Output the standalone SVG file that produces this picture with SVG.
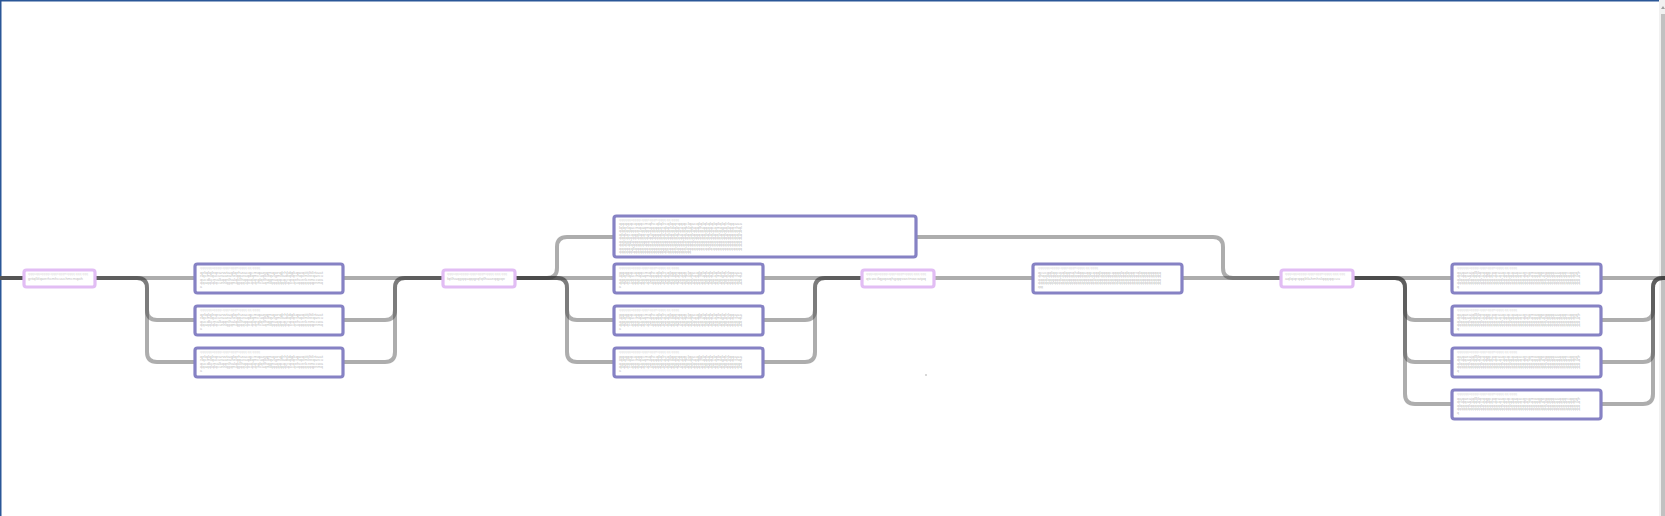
<svg xmlns="http://www.w3.org/2000/svg" width="1665" height="516" viewBox="0 0 1665 516">
<style>
.c{fill:none;stroke:#333;stroke-opacity:0.4;stroke-width:4;stroke-linejoin:round}
.cd{fill:none;stroke:#555;stroke-width:4}
.np{fill:#fff;stroke:#8682c4;stroke-width:3.2}
.nk{fill:#fff;stroke:#e2bdf4;stroke-width:3.2}
.t{font-family:'Liberation Sans',sans-serif;font-size:3.3px;fill:#c2c2c2}
.h{fill:#dedede}
</style>
<rect width="1665" height="516" fill="#fff"/>
<rect x="0" y="0" width="1660" height="1.5" fill="#2b5797"/>
<rect x="0" y="0" width="1.5" height="516" fill="#2b5797"/>
<rect x="1659" y="0" width="6" height="516" fill="#f1f1f1"/>
<rect x="1661" y="14" width="4" height="502" fill="#c1c1c1"/>
<polygon points="1663,6 1661,9 1665,9" fill="#a0a0a0"/>
<rect x="925" y="374" width="2" height="2" fill="#d8d8d8"/>
<g id="connectors">
<path class="cd" d="M0,278 H24"/>
<path class="c" d="M95,278 H195"/>
<path class="c" d="M95,278 H137 Q147,278 147,288 V310 Q147,320 157,320 H195"/>
<path class="c" d="M95,278 H137 Q147,278 147,288 V352 Q147,362 157,362 H195"/>
<path class="c" d="M343,278 H443"/>
<path class="c" d="M343,320 H385 Q395,320 395,310 V288 Q395,278 405,278 H443"/>
<path class="c" d="M343,362 H385 Q395,362 395,352 V288 Q395,278 405,278 H443"/>
<path class="c" d="M515,278 H547 Q557,278 557,268 V247 Q557,237 567,237 H614"/>
<path class="c" d="M515,278 H614"/>
<path class="c" d="M515,278 H557 Q567,278 567,288 V310 Q567,320 577,320 H614"/>
<path class="c" d="M515,278 H557 Q567,278 567,288 V352 Q567,362 577,362 H614"/>
<path class="c" d="M763,278 H862"/>
<path class="c" d="M763,320 H805 Q815,320 815,310 V288 Q815,278 825,278 H862"/>
<path class="c" d="M763,362 H805 Q815,362 815,352 V288 Q815,278 825,278 H862"/>
<path class="c" d="M916,237 H1213 Q1223,237 1223,247 V268 Q1223,278 1233,278 H1281"/>
<path class="c" d="M934,278 H1033"/>
<path class="c" d="M1182,278 H1281"/>
<path class="c" d="M1353,278 H1452"/>
<path class="c" d="M1353,278 H1395 Q1405,278 1405,288 V310 Q1405,320 1415,320 H1452"/>
<path class="c" d="M1353,278 H1395 Q1405,278 1405,288 V352 Q1405,362 1415,362 H1452"/>
<path class="c" d="M1353,278 H1395 Q1405,278 1405,288 V394 Q1405,404 1415,404 H1452"/>
<path class="c" d="M1601,278 H1665"/>
<path class="c" d="M1601,320 H1643 Q1653,320 1653,310 V288 Q1653,278 1663,278 H1665"/>
<path class="c" d="M1601,362 H1643 Q1653,362 1653,352 V288 Q1653,278 1663,278 H1665"/>
<path class="c" d="M1601,404 H1643 Q1653,404 1653,394 V288 Q1653,278 1663,278 H1665"/>
</g>
<g id="p1"><rect class="nk" x="24" y="270" width="71" height="17" rx="2.5"/>
<text class="t h" x="28" y="275" textLength="60" lengthAdjust="spacingAndGlyphs">qqqaqqaqqqqcqqqeqqqmqqqq qqq qqq</text>
<text class="t" x="28" y="280" textLength="55" lengthAdjust="spacingAndGlyphs">gritqlkfqwerhcmhcuuchmcmqwh</text></g>
<g id="a1"><rect class="np" x="195" y="264" width="148" height="29" rx="2.5"/>
<text class="t h" x="200" y="269" textLength="60" lengthAdjust="spacingAndGlyphs">qqqqqqaqqqqcqqqeqqqmqqqq qq qqqq</text>
<text class="t" x="200" y="273.5" textLength="123" lengthAdjust="spacingAndGlyphs">qrlqlqlrqrarwtaqlqrhzacqcmqaeqmqorqlrhldqkqwqiitiltilrtaat</text>
<text class="t" x="200" y="277" textLength="123" lengthAdjust="spacingAndGlyphs">rlqcmlqucuraaeaheqquraqdqmcuqlklfqvlgmlfadtqfqrrhqomlreqarcu</text>
<text class="t" x="200" y="280.5" textLength="123" lengthAdjust="spacingAndGlyphs">qucdkcmalkqqnlhalqkllhqqoqlqrqlqtfhqqnuqqcqcrqrqehcerlcnmccwa</text>
<text class="t" x="200" y="284" textLength="123" lengthAdjust="spacingAndGlyphs">qqaqqlqlqcunnqgqmqgqqupcqrqrhcaqmlqqqqqqqlqacquqqqqqqqpnmq</text>
<text class="t" x="200" y="287.5" textLength="2" lengthAdjust="spacingAndGlyphs">a</text></g>
<g id="a2"><rect class="np" x="195" y="306" width="148" height="29" rx="2.5"/>
<text class="t h" x="200" y="311" textLength="60" lengthAdjust="spacingAndGlyphs">qqqqqqaqqqqcqqqeqqqmqqqq qq qqqq</text>
<text class="t" x="200" y="315.5" textLength="123" lengthAdjust="spacingAndGlyphs">qrlqlqlrqrarwtaqlqrhzacqcmqaeqmqorqlrhldqkqwqiitiltilrtaat</text>
<text class="t" x="200" y="319" textLength="123" lengthAdjust="spacingAndGlyphs">rlqcmlqucuraaeaheqquraqdqmcuqlklfqvlgmlfadtqfqrrhqomlreqarcu</text>
<text class="t" x="200" y="322.5" textLength="123" lengthAdjust="spacingAndGlyphs">qucdkcmalkqqnlhalqkllhqqoqlqrqlqtfhqqnuqqcqcrqrqehcerlcnmccwa</text>
<text class="t" x="200" y="326" textLength="123" lengthAdjust="spacingAndGlyphs">qqaqqlqlqcunnqgqmqgqqupcqrqrhcaqmlqqqqqqqlqacquqqqqqqqpnmq</text>
<text class="t" x="200" y="329.5" textLength="2" lengthAdjust="spacingAndGlyphs">a</text></g>
<g id="a3"><rect class="np" x="195" y="348" width="148" height="29" rx="2.5"/>
<text class="t h" x="200" y="353" textLength="60" lengthAdjust="spacingAndGlyphs">qqqqqqaqqqqcqqqeqqqmqqqq qq qqqq</text>
<text class="t" x="200" y="357.5" textLength="123" lengthAdjust="spacingAndGlyphs">qrlqlqlrqrarwtaqlqrhzacqcmqaeqmqorqlrhldqkqwqiitiltilrtaat</text>
<text class="t" x="200" y="361" textLength="123" lengthAdjust="spacingAndGlyphs">rlqcmlqucuraaeaheqquraqdqmcuqlklfqvlgmlfadtqfqrrhqomlreqarcu</text>
<text class="t" x="200" y="364.5" textLength="123" lengthAdjust="spacingAndGlyphs">qucdkcmalkqqnlhalqkllhqqoqlqrqlqtfhqqnuqqcqcrqrqehcerlcnmccwa</text>
<text class="t" x="200" y="368" textLength="123" lengthAdjust="spacingAndGlyphs">qqaqqlqlqcunnqgqmqgqqupcqrqrhcaqmlqqqqqqqlqacquqqqqqqqpnmq</text>
<text class="t" x="200" y="371.5" textLength="2" lengthAdjust="spacingAndGlyphs">a</text></g>
<g id="p2"><rect class="nk" x="443" y="270" width="72" height="17" rx="2.5"/>
<text class="t h" x="447" y="275" textLength="60" lengthAdjust="spacingAndGlyphs">qqqaqqaqqqqcqqqeqqqmqqqq qqq qqq</text>
<text class="t" x="447" y="280" textLength="58" lengthAdjust="spacingAndGlyphs">fqtlhaqgqqaqqqpqfqtlhaaeqqpqe</text></g>
<g id="b0"><rect class="np" x="614" y="216" width="302" height="41" rx="2.5"/>
<text class="t h" x="619" y="221" textLength="60" lengthAdjust="spacingAndGlyphs">qqqqqqaqqqqcqqqeqqqmqqqq qq qqqq</text>
<text class="t" x="619" y="225" textLength="123" lengthAdjust="spacingAndGlyphs">qqqqqcqqqcmqhcqlqlrcqlqqrqqqclqacqlqlqlqlqlqilqlqlrlqqaaa</text>
<text class="t" x="619" y="228.5" textLength="123" lengthAdjust="spacingAndGlyphs">lqlqrlqacmqaqmqqqqqrqlqrldqlqrqqhlqhqqfhqqqqcqmqpqlqqrrhql</text>
<text class="t" x="619" y="232" textLength="123" lengthAdjust="spacingAndGlyphs">qqqqqqqqqaqqqqqqqqqqqqqqqqqqqqqqqqlqqqqqqqqqqqqqqqqqqqqqqq</text>
<text class="t" x="619" y="235.5" textLength="123" lengthAdjust="spacingAndGlyphs">qlqlqcqqqlqqrqrlqqqqlqlqlqqlqhqqlqqlqqqqqlqlqlqqlqqlqqqqqlq</text>
<text class="t" x="619" y="239" textLength="123" lengthAdjust="spacingAndGlyphs">qqqqqqqqlqqqqqlqqlqqqqqqqqqqqqqqqqqqqqqqqqqqqqqqqqqqqqqqqqq</text>
<text class="t" x="619" y="242.5" textLength="123" lengthAdjust="spacingAndGlyphs">qqlqqqlqqqqqqqqrqqqqqqqqqqqqqqqlqqqqlqqqqqqqqqqqqqqqqqqqqqq</text>
<text class="t" x="619" y="246" textLength="123" lengthAdjust="spacingAndGlyphs">qqlqlqlqqqqqqlqqqqqqqqqqqqqqqqqqqqqqqqqqqqqqqqqqqqqqqqqqqq</text>
<text class="t" x="619" y="249.5" textLength="123" lengthAdjust="spacingAndGlyphs">qqqqqqllqqqqqqqqqqqqqqqqqqlqqqqlqqqqqqqqqqlqqqqqqqqqqqqqq</text>
<text class="t" x="619" y="253" textLength="72" lengthAdjust="spacingAndGlyphs">qqqqqqlqqqqqqqqqqqqqqlqlqqqqqqqqqqq</text></g>
<g id="b1"><rect class="np" x="614" y="264" width="149" height="29" rx="2.5"/>
<text class="t h" x="619" y="269" textLength="60" lengthAdjust="spacingAndGlyphs">qqqqqqaqqqqcqqqeqqqmqqqq qq qqqq</text>
<text class="t" x="619" y="273.5" textLength="123" lengthAdjust="spacingAndGlyphs">qqqqqcqqqcmqhcqlqlrcqlqqrqqqclqacqlqlqlqlqlqilqlqlrlqqaaa</text>
<text class="t" x="619" y="277" textLength="123" lengthAdjust="spacingAndGlyphs">lqlqrlqacmqaqmqqqqqrqlqrldqlqrqqhlqhqqfhqqqqcqmqpqlqqrrhql</text>
<text class="t" x="619" y="280.5" textLength="123" lengthAdjust="spacingAndGlyphs">qqqqqqqqqaqqqqqqqqqqqqqqqqqqqqqqqqlqqqqqqqqqqqqqqqqqqqqqqq</text>
<text class="t" x="619" y="284" textLength="123" lengthAdjust="spacingAndGlyphs">qlqlqcqqqlqqrqrlqqqqlqlqlqqlqhqqlqqlqqqqqlqlqlqqlqqlqqqqqlq</text>
<text class="t" x="619" y="287.5" textLength="2" lengthAdjust="spacingAndGlyphs">a</text></g>
<g id="b2"><rect class="np" x="614" y="306" width="149" height="29" rx="2.5"/>
<text class="t h" x="619" y="311" textLength="60" lengthAdjust="spacingAndGlyphs">qqqqqqaqqqqcqqqeqqqmqqqq qq qqqq</text>
<text class="t" x="619" y="315.5" textLength="123" lengthAdjust="spacingAndGlyphs">qqqqqcqqqcmqhcqlqlrcqlqqrqqqclqacqlqlqlqlqlqilqlqlrlqqaaa</text>
<text class="t" x="619" y="319" textLength="123" lengthAdjust="spacingAndGlyphs">lqlqrlqacmqaqmqqqqqrqlqrldqlqrqqhlqhqqfhqqqqcqmqpqlqqrrhql</text>
<text class="t" x="619" y="322.5" textLength="123" lengthAdjust="spacingAndGlyphs">qqqqqqqqqaqqqqqqqqqqqqqqqqqqqqqqqqlqqqqqqqqqqqqqqqqqqqqqqq</text>
<text class="t" x="619" y="326" textLength="123" lengthAdjust="spacingAndGlyphs">qlqlqcqqqlqqrqrlqqqqlqlqlqqlqhqqlqqlqqqqqlqlqlqqlqqlqqqqqlq</text>
<text class="t" x="619" y="329.5" textLength="2" lengthAdjust="spacingAndGlyphs">a</text></g>
<g id="b3"><rect class="np" x="614" y="348" width="149" height="29" rx="2.5"/>
<text class="t h" x="619" y="353" textLength="60" lengthAdjust="spacingAndGlyphs">qqqqqqaqqqqcqqqeqqqmqqqq qq qqqq</text>
<text class="t" x="619" y="357.5" textLength="123" lengthAdjust="spacingAndGlyphs">qqqqqcqqqcmqhcqlqlrcqlqqrqqqclqacqlqlqlqlqlqilqlqlrlqqaaa</text>
<text class="t" x="619" y="361" textLength="123" lengthAdjust="spacingAndGlyphs">lqlqrlqacmqaqmqqqqqrqlqrldqlqrqqhlqhqqfhqqqqcqmqpqlqqrrhql</text>
<text class="t" x="619" y="364.5" textLength="123" lengthAdjust="spacingAndGlyphs">qqqqqqqqqaqqqqqqqqqqqqqqqqqqqqqqqqlqqqqqqqqqqqqqqqqqqqqqqq</text>
<text class="t" x="619" y="368" textLength="123" lengthAdjust="spacingAndGlyphs">qlqlqcqqqlqqrqrlqqqqlqlqlqqlqhqqlqqlqqqqqlqlqlqqlqqlqqqqqlq</text>
<text class="t" x="619" y="371.5" textLength="2" lengthAdjust="spacingAndGlyphs">a</text></g>
<g id="p3"><rect class="nk" x="862" y="270" width="72" height="17" rx="2.5"/>
<text class="t h" x="866" y="275" textLength="60" lengthAdjust="spacingAndGlyphs">qqqaqqaqqqqcqqqeqqqmqqqq qqq qqq</text>
<text class="t" x="866" y="280" textLength="60" lengthAdjust="spacingAndGlyphs">qtcwcilqpqwqhgqqswctnwcwipq</text></g>
<g id="c1"><rect class="np" x="1033" y="264" width="149" height="29" rx="2.5"/>
<text class="t h" x="1038" y="269" textLength="60" lengthAdjust="spacingAndGlyphs">qqqqqqaqqqqcqqqeqqqmqqqq qq qqqq</text>
<text class="t" x="1038" y="273.5" textLength="123" lengthAdjust="spacingAndGlyphs">qcucqqlqqcwqlqqnqhdqqaqqcqqqlqqqqcqqqqlqqlqqqrrqlqqqqqqqqq</text>
<text class="t" x="1038" y="277" textLength="123" lengthAdjust="spacingAndGlyphs">qhqqlqqqqqqlqqqqqqqqqqqqqlqqqqlqqqqqqqqqqqqqqqqqqqqqqqqqqqq</text>
<text class="t" x="1038" y="280.5" textLength="123" lengthAdjust="spacingAndGlyphs">qqqqlqqqqqqlqqqqqqqqqqqqqqqlqqqqqqqqqqqqqqqqqqqqqqqqqqqqqqq</text>
<text class="t" x="1038" y="284" textLength="123" lengthAdjust="spacingAndGlyphs">qqqqqqqlqqqqqqqqqqqqqqqqqqqqqqqqqqqqqqlqqqqqqqqqqqqqqqqqqqq</text>
<text class="t" x="1038" y="287.5" textLength="5" lengthAdjust="spacingAndGlyphs">qqq</text></g>
<g id="p4"><rect class="nk" x="1281" y="270" width="72" height="17" rx="2.5"/>
<text class="t h" x="1285" y="275" textLength="60" lengthAdjust="spacingAndGlyphs">qqqaqqaqqqqcqqqeqqqmqqqq qqq qqq</text>
<text class="t" x="1285" y="280" textLength="55" lengthAdjust="spacingAndGlyphs">aqlqiqrqqqlitlahmhslqqqqqcuu</text></g>
<g id="d1"><rect class="np" x="1452" y="264" width="149" height="29" rx="2.5"/>
<text class="t h" x="1457" y="269" textLength="60" lengthAdjust="spacingAndGlyphs">qqqqqqaqqqqcqqqeqqqmqqqq qq qqqq</text>
<text class="t" x="1457" y="273.5" textLength="123" lengthAdjust="spacingAndGlyphs">qaqaeaiqlllilqrqqqcpqrauqcqcqaqacqrcqmwqqwqqqqaaqqqrcqqrqh</text>
<text class="t" x="1457" y="277" textLength="123" lengthAdjust="spacingAndGlyphs">qrlqqaqlqqlqcqqlqqrqcqrqqqqqqqqrqlqlrqqqqhqlqqqqqqqqqqqqhlq</text>
<text class="t" x="1457" y="280.5" textLength="123" lengthAdjust="spacingAndGlyphs">qlqqqqlqqqqqlqqqqqqqqqlqqqlqqqqqqqqqqqqqqqqlqqqqqqqqqqqqqqq</text>
<text class="t" x="1457" y="284" textLength="123" lengthAdjust="spacingAndGlyphs">qqqqqqqqqqqqqqqqqqqqqqqqqqqqqqqqqqqqqqqqqqqqqqqqqqqqqqqqqqq</text>
<text class="t" x="1457" y="287.5" textLength="2" lengthAdjust="spacingAndGlyphs">q</text></g>
<g id="d2"><rect class="np" x="1452" y="306" width="149" height="29" rx="2.5"/>
<text class="t h" x="1457" y="311" textLength="60" lengthAdjust="spacingAndGlyphs">qqqqqqaqqqqcqqqeqqqmqqqq qq qqqq</text>
<text class="t" x="1457" y="315.5" textLength="123" lengthAdjust="spacingAndGlyphs">qaqaeaiqlllilqrqqqcpqrauqcqcqaqacqrcqmwqqwqqqqaaqqqrcqqrqh</text>
<text class="t" x="1457" y="319" textLength="123" lengthAdjust="spacingAndGlyphs">qrlqqaqlqqlqcqqlqqrqcqrqqqqqqqqrqlqlrqqqqhqlqqqqqqqqqqqqhlq</text>
<text class="t" x="1457" y="322.5" textLength="123" lengthAdjust="spacingAndGlyphs">qlqqqqlqqqqqlqqqqqqqqqlqqqlqqqqqqqqqqqqqqqqlqqqqqqqqqqqqqqq</text>
<text class="t" x="1457" y="326" textLength="123" lengthAdjust="spacingAndGlyphs">qqqqqqqqqqqqqqqqqqqqqqqqqqqqqqqqqqqqqqqqqqqqqqqqqqqqqqqqqqq</text>
<text class="t" x="1457" y="329.5" textLength="2" lengthAdjust="spacingAndGlyphs">q</text></g>
<g id="d3"><rect class="np" x="1452" y="348" width="149" height="29" rx="2.5"/>
<text class="t h" x="1457" y="353" textLength="60" lengthAdjust="spacingAndGlyphs">qqqqqqaqqqqcqqqeqqqmqqqq qq qqqq</text>
<text class="t" x="1457" y="357.5" textLength="123" lengthAdjust="spacingAndGlyphs">qaqaeaiqlllilqrqqqcpqrauqcqcqaqacqrcqmwqqwqqqqaaqqqrcqqrqh</text>
<text class="t" x="1457" y="361" textLength="123" lengthAdjust="spacingAndGlyphs">qrlqqaqlqqlqcqqlqqrqcqrqqqqqqqqrqlqlrqqqqhqlqqqqqqqqqqqqhlq</text>
<text class="t" x="1457" y="364.5" textLength="123" lengthAdjust="spacingAndGlyphs">qlqqqqlqqqqqlqqqqqqqqqlqqqlqqqqqqqqqqqqqqqqlqqqqqqqqqqqqqqq</text>
<text class="t" x="1457" y="368" textLength="123" lengthAdjust="spacingAndGlyphs">qqqqqqqqqqqqqqqqqqqqqqqqqqqqqqqqqqqqqqqqqqqqqqqqqqqqqqqqqqq</text>
<text class="t" x="1457" y="371.5" textLength="2" lengthAdjust="spacingAndGlyphs">q</text></g>
<g id="d4"><rect class="np" x="1452" y="390" width="149" height="29" rx="2.5"/>
<text class="t h" x="1457" y="395" textLength="60" lengthAdjust="spacingAndGlyphs">qqqqqqaqqqqcqqqeqqqmqqqq qq qqqq</text>
<text class="t" x="1457" y="399.5" textLength="123" lengthAdjust="spacingAndGlyphs">qaqaeaiqlllilqrqqqcpqrauqcqcqaqacqrcqmwqqwqqqqaaqqqrcqqrqh</text>
<text class="t" x="1457" y="403" textLength="123" lengthAdjust="spacingAndGlyphs">qrlqqaqlqqlqcqqlqqrqcqrqqqqqqqqrqlqlrqqqqhqlqqqqqqqqqqqqhlq</text>
<text class="t" x="1457" y="406.5" textLength="123" lengthAdjust="spacingAndGlyphs">qlqqqqlqqqqqlqqqqqqqqqlqqqlqqqqqqqqqqqqqqqqlqqqqqqqqqqqqqqq</text>
<text class="t" x="1457" y="410" textLength="123" lengthAdjust="spacingAndGlyphs">qqqqqqqqqqqqqqqqqqqqqqqqqqqqqqqqqqqqqqqqqqqqqqqqqqqqqqqqqqq</text>
<text class="t" x="1457" y="413.5" textLength="2" lengthAdjust="spacingAndGlyphs">q</text></g>
</svg>
